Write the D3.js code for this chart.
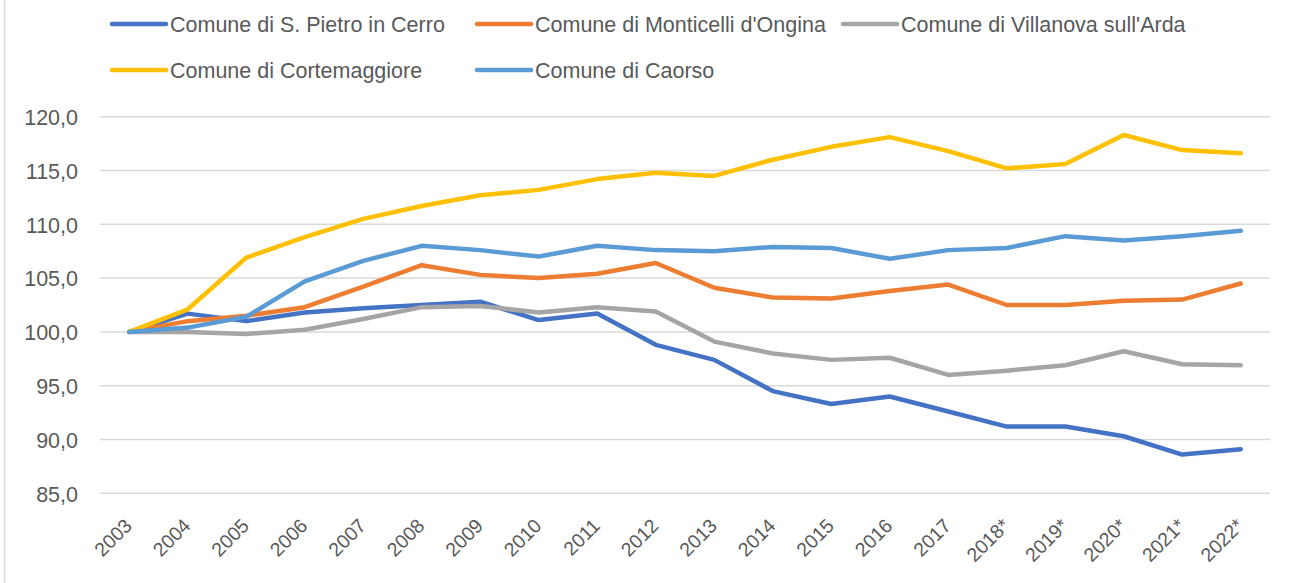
<!DOCTYPE html>
<html><head><meta charset="utf-8">
<script src="https://cdn.jsdelivr.net/npm/d3@7/dist/d3.min.js"></script>
<style>body{margin:0;background:#fff}svg{display:block}</style>
</head><body><svg id="c" width="1298" height="583"></svg>
<script>
const years = ["2003","2004","2005","2006","2007","2008","2009","2010","2011","2012","2013","2014","2015","2016","2017","2018*","2019*","2020*","2021*","2022*"];
const seriesNames = ["Comune di S. Pietro in Cerro","Comune di Monticelli d'Ongina","Comune di Villanova sull'Arda","Comune di Cortemaggiore","Comune di Caorso"];
const sPietro      = [100,101.7,101.0,101.8,102.2,102.5,102.8,101.1,101.7,98.8,97.4,94.5,93.3,94.0,92.6,91.2,91.2,90.3,88.6,89.1];
const monticelli   = [100,101.0,101.5,102.3,104.2,106.2,105.3,105.0,105.4,106.4,104.1,103.2,103.1,103.8,104.4,102.5,102.5,102.9,103.0,104.5];
const villanova    = [100,100.0,99.8,100.2,101.2,102.3,102.4,101.8,102.3,101.9,99.1,98.0,97.4,97.6,96.0,96.4,96.9,98.2,97.0,96.9];
const cortemaggiore= [100,102.1,106.9,108.8,110.5,111.7,112.7,113.2,114.2,114.8,114.5,116.0,117.2,118.1,116.8,115.2,115.6,118.3,116.9,116.6];
const caorso       = [100,100.4,101.4,104.7,106.6,108.0,107.6,107.0,108.0,107.6,107.5,107.9,107.8,106.8,107.6,107.8,108.9,108.5,108.9,109.4];
const yTicks = [85,90,95,100,105,110,115,120];
const colors = ["#4472C4","#ED7D31","#A5A5A5","#FFC000","#5B9BD5"];
const allSeries = [sPietro, monticelli, villanova, cortemaggiore, caorso];

const svg = d3.select("#c");
const FONT = "'Liberation Sans', Arial, sans-serif";
const textCol = "#595959";

// frame left edge
svg.append("line").attr("x1",4.5).attr("x2",4.5).attr("y1",0).attr("y2",583).attr("stroke","#d9d9d9").attr("stroke-width",1.5);

const x = d3.scaleBand().domain(years).range([100,1270]).padding(0);
const y = d3.scaleLinear().domain([85,120]).range([493.3,116.7]);

// gridlines
svg.append("g").selectAll("line").data(yTicks).join("line")
  .attr("x1",100).attr("x2",1270)
  .attr("y1",d=>y(d)).attr("y2",d=>y(d))
  .attr("stroke","#d9d9d9").attr("stroke-width",1.5);

// y axis labels
const fmt = d => d3.format(".1f")(d).replace(".", ",");
const yAxis = d3.axisLeft(y).tickValues(yTicks).tickFormat(fmt).tickSize(0).tickPadding(0);
const gy = svg.append("g").attr("transform","translate(78,0)").call(yAxis);
gy.select(".domain").remove();
gy.selectAll("text").attr("font-family",FONT).attr("font-size",21.5).attr("fill",textCol).attr("dy","0.36em");

// x axis labels
const xAxis = d3.axisBottom(x).tickSize(0).tickPadding(0);
const gx = svg.append("g").attr("transform","translate(0,503)").call(xAxis);
gx.select(".domain").remove();
gx.selectAll("text").attr("font-family",FONT).attr("font-size",19.5).attr("fill",textCol)
  .attr("text-anchor","end").attr("dy",0).attr("y",0)
  .attr("transform","translate(4,24) rotate(-45)");

// lines
const line = d3.line().x((d,i)=>x(years[i])+x.bandwidth()/2).y(d=>y(d));
svg.append("g").selectAll("path").data(allSeries).join("path")
  .attr("d",d=>line(d)).attr("fill","none")
  .attr("stroke",(d,i)=>colors[i]).attr("stroke-width",4.5)
  .attr("stroke-linejoin","round").attr("stroke-linecap","round");

// legend
const legendPos = [[112,24],[477,24],[843,24],[112,70],[477,70]];
const lg = svg.append("g").selectAll("g").data(seriesNames).join("g")
  .attr("transform",(d,i)=>`translate(${legendPos[i][0]},${legendPos[i][1]})`);
lg.append("line").attr("x1",0).attr("x2",54).attr("y1",0).attr("y2",0)
  .attr("stroke",(d,i)=>colors[i]).attr("stroke-width",4.5).attr("stroke-linecap","round");
lg.append("text").attr("x",58).attr("y",0).attr("dy","0.36em")
  .attr("font-family",FONT).attr("font-size",21.5).attr("fill",textCol).text(d=>d);
</script></body></html>
